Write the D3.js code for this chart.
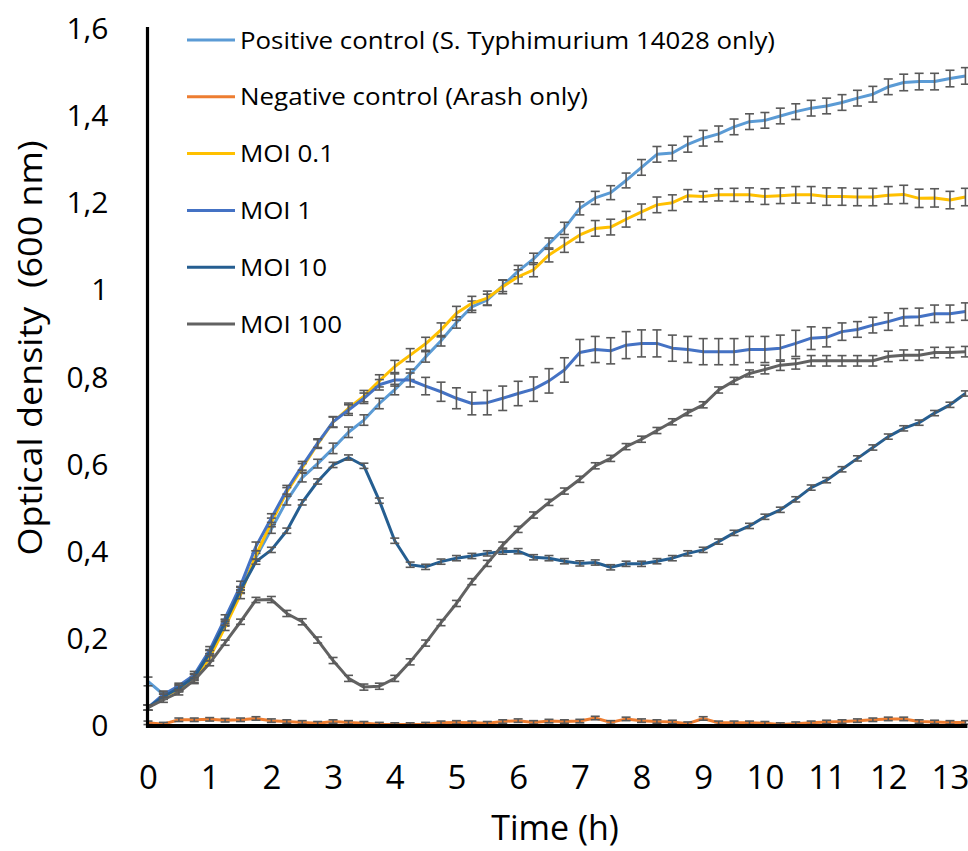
<!DOCTYPE html>
<html>
<head>
<meta charset="utf-8">
<script src="https://cdn.jsdelivr.net/npm/d3@7"></script>
<style>
  html, body { margin: 0; padding: 0; background: #ffffff; }
  svg { display: block; }
  text { font-family: "Open Sans", "DejaVu Sans", sans-serif; fill: #000; }
</style>
</head>
<body>
<script>
// ---------- DATA ----------
const timeH = [0,0.25,0.5,0.75,1,1.25,1.5,1.75,2,2.25,2.5,2.75,3,3.25,3.5,3.75,4,4.25,4.5,4.75,5,5.25,5.5,5.75,6,6.25,6.5,6.75,7,7.25,7.5,7.75,8,8.25,8.5,8.75,9,9.25,9.5,9.75,10,10.25,10.5,10.75,11,11.25,11.5,11.75,12,12.25,12.5,12.75,13,13.25];

const seriesNames = [
  "Positive control (S. Typhimurium 14028 only)",
  "Negative control (Arash only)",
  "MOI 0.1",
  "MOI 1",
  "MOI 10",
  "MOI 100"
];

const positiveControl = [0.10,0.07,0.085,0.11,0.165,0.235,0.31,0.385,0.45,0.515,0.568,0.60,0.635,0.672,0.70,0.738,0.77,0.805,0.845,0.882,0.924,0.96,0.976,1.008,1.042,1.07,1.105,1.14,1.186,1.21,1.222,1.25,1.28,1.31,1.313,1.333,1.347,1.357,1.373,1.385,1.388,1.398,1.408,1.416,1.421,1.429,1.439,1.448,1.465,1.475,1.477,1.477,1.484,1.49];
const negativeControl = [0.005,0.002,0.012,0.012,0.013,0.011,0.012,0.015,0.01,0.008,0.006,0.004,0.008,0.006,0.004,0.002,0.001,0.001,0.002,0.005,0.006,0.005,0.004,0.008,0.01,0.006,0.009,0.008,0.009,0.016,0.006,0.014,0.01,0.008,0.007,0.003,0.015,0.005,0.005,0.005,0.004,0.001,0.003,0.005,0.007,0.008,0.01,0.012,0.014,0.014,0.008,0.007,0.006,0.006];
const moi01 = [0.04,0.065,0.082,0.103,0.155,0.225,0.30,0.39,0.465,0.535,0.59,0.645,0.695,0.727,0.755,0.79,0.823,0.849,0.875,0.907,0.945,0.968,0.98,1.006,1.029,1.045,1.079,1.102,1.125,1.14,1.143,1.161,1.178,1.194,1.199,1.215,1.213,1.217,1.217,1.217,1.213,1.215,1.217,1.217,1.213,1.213,1.212,1.212,1.216,1.218,1.209,1.21,1.205,1.212];
const moi1 = [0.04,0.07,0.09,0.115,0.172,0.245,0.32,0.41,0.475,0.54,0.595,0.647,0.696,0.723,0.75,0.781,0.792,0.792,0.778,0.765,0.75,0.738,0.74,0.75,0.761,0.771,0.79,0.815,0.855,0.862,0.859,0.872,0.876,0.876,0.865,0.862,0.857,0.857,0.857,0.862,0.862,0.865,0.876,0.888,0.89,0.903,0.908,0.918,0.926,0.936,0.937,0.944,0.944,0.949];
const moi10 = [0.04,0.065,0.085,0.11,0.165,0.235,0.31,0.375,0.402,0.446,0.511,0.559,0.597,0.614,0.595,0.515,0.423,0.368,0.363,0.375,0.383,0.388,0.394,0.398,0.399,0.385,0.383,0.376,0.371,0.373,0.362,0.37,0.37,0.376,0.383,0.394,0.402,0.421,0.441,0.457,0.478,0.494,0.518,0.545,0.562,0.587,0.612,0.637,0.662,0.681,0.694,0.716,0.735,0.761];
const moi100 = [0.04,0.058,0.075,0.103,0.142,0.189,0.237,0.287,0.288,0.256,0.237,0.195,0.148,0.107,0.087,0.089,0.107,0.145,0.188,0.235,0.279,0.329,0.371,0.413,0.449,0.482,0.511,0.537,0.564,0.595,0.612,0.639,0.656,0.676,0.696,0.717,0.735,0.769,0.79,0.807,0.816,0.826,0.829,0.836,0.836,0.836,0.836,0.836,0.846,0.849,0.849,0.855,0.855,0.857];

// error bar half-lengths (standard deviation)
const errPositive = [0.01,0.008,0.008,0.008,0.008,0.008,0.008,0.009,0.01,0.01,0.01,0.01,0.012,0.012,0.012,0.012,0.012,0.012,0.012,0.012,0.013,0.013,0.013,0.013,0.013,0.013,0.013,0.014,0.015,0.015,0.016,0.017,0.018,0.018,0.018,0.018,0.018,0.018,0.018,0.018,0.018,0.018,0.018,0.018,0.018,0.018,0.018,0.018,0.018,0.019,0.019,0.019,0.019,0.019];
const errNegative = [0.004,0.004,0.004,0.004,0.004,0.004,0.004,0.004,0.004,0.004,0.004,0.004,0.004,0.004,0.004,0.004,0.004,0.004,0.004,0.004,0.004,0.004,0.004,0.004,0.004,0.004,0.004,0.004,0.004,0.004,0.004,0.004,0.004,0.004,0.004,0.004,0.004,0.004,0.004,0.004,0.004,0.004,0.004,0.004,0.004,0.004,0.004,0.004,0.004,0.004,0.004,0.004,0.004,0.004];
const errMoi01 = [0.006,0.006,0.006,0.008,0.008,0.008,0.01,0.01,0.01,0.01,0.01,0.01,0.012,0.012,0.013,0.014,0.014,0.015,0.015,0.016,0.016,0.016,0.016,0.016,0.016,0.016,0.016,0.017,0.017,0.018,0.018,0.018,0.018,0.018,0.018,0.014,0.012,0.014,0.015,0.016,0.018,0.018,0.019,0.019,0.02,0.02,0.02,0.02,0.02,0.021,0.021,0.021,0.02,0.02];
const errMoi1 = [0.006,0.006,0.006,0.008,0.008,0.008,0.01,0.01,0.01,0.01,0.01,0.01,0.012,0.012,0.012,0.012,0.014,0.016,0.02,0.022,0.024,0.026,0.028,0.028,0.028,0.028,0.028,0.028,0.03,0.03,0.03,0.031,0.031,0.031,0.03,0.03,0.03,0.03,0.03,0.03,0.03,0.03,0.03,0.026,0.022,0.02,0.018,0.018,0.02,0.02,0.02,0.02,0.02,0.02];
const errMoi10 = [0.006,0.006,0.006,0.006,0.006,0.006,0.006,0.006,0.006,0.006,0.006,0.006,0.006,0.006,0.006,0.006,0.006,0.006,0.006,0.006,0.006,0.006,0.006,0.006,0.006,0.006,0.006,0.006,0.006,0.006,0.006,0.006,0.006,0.006,0.006,0.006,0.006,0.006,0.006,0.006,0.006,0.006,0.006,0.006,0.006,0.006,0.006,0.006,0.006,0.006,0.006,0.006,0.006,0.006];
const errMoi100 = [0.006,0.006,0.006,0.006,0.006,0.006,0.006,0.006,0.007,0.007,0.007,0.007,0.007,0.007,0.007,0.007,0.007,0.007,0.007,0.007,0.007,0.007,0.007,0.007,0.007,0.007,0.007,0.007,0.007,0.007,0.007,0.007,0.007,0.007,0.007,0.007,0.007,0.007,0.008,0.008,0.01,0.012,0.012,0.012,0.012,0.012,0.012,0.012,0.012,0.012,0.012,0.012,0.012,0.012];

const xTickValues = [0,1,2,3,4,5,6,7,8,9,10,11,12,13];
const yTickValues = [0,0.2,0.4,0.6,0.8,1.0,1.2,1.4,1.6];
const colors = ["#5B9BD5","#ED7D31","#FFC000","#4472C4","#255E91","#626262"];
const xTitle = "Time (h)";
const yTitle = "Optical density  (600 nm)";

const allValues = [positiveControl, negativeControl, moi01, moi1, moi10, moi100];
const allErrors = [errPositive, errNegative, errMoi01, errMoi1, errMoi10, errMoi100];

// ---------- CHART ----------
const W = 968, H = 851;
const svg = d3.select("body").append("svg").attr("width", W).attr("height", H);

const x = d3.scaleLinear().domain([0, 13.25]).range([148, 965.4]);
const y = d3.scaleLinear().domain([0, 1.6]).range([725, 28]);

const series = seriesNames.map((name, i) => ({
  name, color: colors[i],
  points: timeH.map((t, j) => ({ t, v: allValues[i][j], e: allErrors[i][j] }))
}));

const line = d3.line().x(d => x(d.t)).y(d => y(d.v));

const plot = svg.append("g");
series.forEach(s => {
  const g = plot.append("g");
  g.append("path")
    .attr("d", line(s.points))
    .attr("fill", "none")
    .attr("stroke", s.color)
    .attr("stroke-width", 3)
    .attr("stroke-linejoin", "round");
  const eb = g.selectAll("g.eb").data(s.points).join("g").attr("class", "eb")
    .attr("stroke", "#595959").attr("stroke-width", 1.6);
  eb.append("line")
    .attr("x1", d => x(d.t)).attr("x2", d => x(d.t))
    .attr("y1", d => y(d.v - d.e)).attr("y2", d => y(d.v + d.e));
  eb.append("line")
    .attr("x1", d => x(d.t) - 4.5).attr("x2", d => x(d.t) + 4.5)
    .attr("y1", d => y(d.v + d.e)).attr("y2", d => y(d.v + d.e));
  eb.append("line")
    .attr("x1", d => x(d.t) - 4.5).attr("x2", d => x(d.t) + 4.5)
    .attr("y1", d => y(d.v - d.e)).attr("y2", d => y(d.v - d.e));
});

// axes
const fmt = d => d3.format(".1~f")(d).replace(".", ",");
const yAxis = d3.axisLeft(y).tickValues(yTickValues).tickFormat(fmt).tickSize(0).tickSizeOuter(0);
const gy = svg.append("g").attr("transform", "translate(147.5,0)").call(yAxis);
gy.select(".domain").attr("stroke", "#000").attr("stroke-width", 3.2)
  .attr("d", `M0,${y(1.6) - 1}V${y(0) + 3}`);
gy.selectAll(".tick text")
  .attr("x", -39).attr("dy", "0.35em")
  .style("font-size", "30px").style("font-family", "'Open Sans', sans-serif").attr("fill", "#000");

const xAxis = d3.axisBottom(x).tickValues(xTickValues).tickFormat(d3.format("d")).tickSize(0).tickSizeOuter(0);
const gx = svg.append("g").attr("transform", `translate(0,${y(0) + 1})`).call(xAxis);
gx.select(".domain").attr("stroke", "#000").attr("stroke-width", 4.2)
  .attr("d", `M${x(0) - 2},0H${x(13.25) + 2}`);
gx.selectAll(".tick text")
  .attr("y", 63).attr("dy", 0)
  .style("font-size", "33px").style("font-family", "'Open Sans', sans-serif").attr("fill", "#000");

// axis titles
svg.append("text")
  .attr("x", 555).attr("y", 840)
  .attr("text-anchor", "middle")
  .style("font-size", "34px")
  .text(xTitle);

svg.append("text")
  .attr("transform", "translate(42,348) rotate(-90)")
  .attr("text-anchor", "middle")
  .attr("textLength", 415).attr("lengthAdjust", "spacingAndGlyphs")
  .style("font-size", "33px")
  .style("white-space", "pre")
  .text(yTitle);

// legend
const legendWidths = [535, 348, 94, 72, 87, 102];
const legend = svg.append("g");
series.forEach((s, i) => {
  const cy = 40 + i * 56.8;
  legend.append("line")
    .attr("x1", 187).attr("x2", 235).attr("y1", cy).attr("y2", cy)
    .attr("stroke", s.color).attr("stroke-width", 3);
  legend.append("text")
    .attr("x", 240).attr("y", cy + 8.5)
    .attr("textLength", legendWidths[i]).attr("lengthAdjust", "spacingAndGlyphs")
    .style("font-size", "24px")
    .text(s.name);
});
</script>
</body>
</html>
